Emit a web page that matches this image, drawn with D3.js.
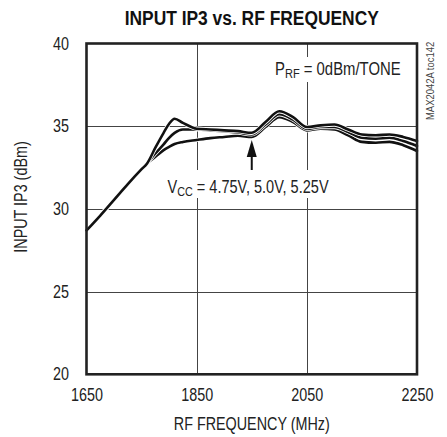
<!DOCTYPE html>
<html>
<head>
<meta charset="utf-8">
<script src="https://cdn.jsdelivr.net/npm/d3@7"></script>
<style>
  html, body { margin: 0; padding: 0; background: #fff; }
  svg { display: block; }
  text { font-family: "Liberation Sans", Arial, sans-serif; fill: #222; }
</style>
</head>
<body>
<svg id="chart" width="447" height="437"></svg>
<script>
// RF frequency sweep (MHz)
const freq = [1650, 1675, 1700, 1725, 1750, 1760, 1775, 1790, 1800, 1810, 1825, 1850, 1875, 1900,
              1925, 1950, 1975, 2000, 2025, 2050, 2075, 2100, 2125, 2150, 2175, 2200, 2225, 2250];

// Input IP3 (dBm) at each supply voltage
const ip3_525 = [28.7, 29.6, 30.55, 31.5, 32.4, 32.75, 33.7, 34.6, 35.15, 35.45, 35.2, 34.85, 34.8, 34.75,
                 34.7, 34.6, 35.25, 35.9, 35.55, 34.95, 35.05, 35.1, 34.8, 34.5, 34.45, 34.5, 34.35, 34.1];
const ip3_500 = [28.7, 29.6, 30.55, 31.5, 32.4, 32.75, 33.35, 33.9, 34.3, 34.6, 34.8, 34.8, 34.75, 34.7,
                 34.62, 34.5, 35.1, 35.72, 35.4, 34.85, 34.95, 34.95, 34.65, 34.3, 34.25, 34.3, 34.1, 33.8];
const ip3_475 = [28.7, 29.6, 30.55, 31.5, 32.4, 32.75, 33.15, 33.55, 33.75, 33.92, 34.05, 34.17, 34.28, 34.35,
                 34.42, 34.35, 34.95, 35.55, 35.25, 34.75, 34.85, 34.8, 34.45, 34.05, 34.0, 34.05, 33.85, 33.5];

const xTicks = [1650, 1850, 2050, 2250];
const yTicks = [20, 25, 30, 35, 40];
const xGrid = [1850, 2050];
const yGrid = [25, 30, 35];

const svg = d3.select("#chart");
const plotL = 86.5, plotR = 417, plotT = 43.5, plotB = 374.3;
const NARROW = 0.82;   // horizontal squeeze giving a narrow sans face

const x = d3.scaleLinear().domain([1650, 2250]).range([plotL, plotR]);
const y = d3.scaleLinear().domain([20, 40]).range([plotB, plotT]);

// Narrow text placed at (tx, ty) via a squeezed group
function narrowText(tx, ty, str, opts = {}) {
  const k = opts.k || NARROW;
  const g = svg.append("g").attr("transform", `translate(${tx},${ty}) ${opts.rotate ? "rotate(-90) " : ""}scale(${k},1)`);
  const t = g.append("text")
    .attr("text-anchor", opts.anchor || "start")
    .attr("font-size", opts.size || 17.5)
    .text(str);
  if (opts.weight) t.attr("font-weight", opts.weight);
  if (opts.fill) t.style("fill", opts.fill);
  return t.node().getComputedTextLength() * k;
}

// Label built from consecutive pieces (main text / subscript)
function pieceLabel(x0, baseline, parts, k) {
  let cx = x0;
  parts.forEach(p => {
    cx += narrowText(cx, baseline + (p.sub ? 3 : 0), p.t, {k, size: p.sub ? 13 : 17.5});
  });
}

// Title
narrowText((plotL + plotR) / 2, 25, "INPUT IP3 vs. RF FREQUENCY",
  {anchor: "middle", size: 20, weight: "bold", k: 0.87, fill: "#111"});

// Grid
const grid = svg.append("g").attr("stroke", "#444").attr("stroke-width", 1);
grid.selectAll("line.v").data(xGrid).join("line")
  .attr("x1", d => Math.round(x(d)) + 0.5).attr("x2", d => Math.round(x(d)) + 0.5)
  .attr("y1", plotT).attr("y2", plotB);
grid.selectAll("line.h").data(yGrid).join("line")
  .attr("x1", plotL).attr("x2", plotR)
  .attr("y1", d => Math.round(y(d)) + 0.5).attr("y2", d => Math.round(y(d)) + 0.5);

// Axes (labels only; the frame is drawn separately)
const yAxis = svg.append("g").attr("transform", `translate(${plotL},0)`)
  .call(d3.axisLeft(y).tickValues(yTicks).tickFormat(d3.format("d")).tickSize(0).tickPadding(17.5));
yAxis.select(".domain").remove();
yAxis.attr("font-family", null).attr("font-size", null);
yAxis.selectAll("text").attr("font-size", 17.5)
  .attr("x", -17.5 / NARROW).attr("transform", `scale(${NARROW},1)`);

const xAxis = svg.append("g").attr("transform", `translate(0,${plotB})`)
  .call(d3.axisBottom(x).tickValues(xTicks).tickFormat(d3.format("d")).tickSize(0).tickPadding(14));
xAxis.select(".domain").remove();
xAxis.attr("font-family", null).attr("font-size", null);
xAxis.selectAll("text").attr("font-size", 17.5).attr("transform", `scale(${NARROW},1)`);

// Axis titles
narrowText((plotL + plotR) / 2, 430, "RF FREQUENCY (MHz)", {anchor: "middle"});
narrowText(27, 197, "INPUT IP3 (dBm)", {anchor: "middle", rotate: true});

// Annotation backgrounds keep grid lines clear of the labels
svg.append("rect").attr("x", 270).attr("y", 57).attr("width", 136).attr("height", 25).attr("fill", "#fff");
svg.append("rect").attr("x", 163).attr("y", 170).attr("width", 172).attr("height", 28).attr("fill", "#fff");

// Curves
const line = d3.line().x((d, i) => x(freq[i])).y(d => y(d)).curve(d3.curveMonotoneX);
const series = [ip3_475, ip3_500, ip3_525];
const curves = svg.append("g").attr("fill", "none").attr("stroke-linejoin", "round").attr("stroke-linecap", "round");
series.forEach(s => {
  curves.append("path").attr("d", line(s)).attr("stroke", "#fff").attr("stroke-width", 4.2);
  curves.append("path").attr("d", line(s)).attr("stroke", "#111").attr("stroke-width", 2.6);
});

// Frame
svg.append("rect")
  .attr("x", plotL).attr("y", plotT).attr("width", plotR - plotL).attr("height", plotB - plotT)
  .attr("fill", "none").attr("stroke", "#222").attr("stroke-width", 2.6);

// Annotation: PRF
pieceLabel(275, 74.5, [{t: "P"}, {t: "RF", sub: true}, {t: "\u00a0= 0dBm/TONE"}], 0.85);

// Annotation: VCC with arrow
pieceLabel(167.5, 192.7, [{t: "V"}, {t: "CC", sub: true}, {t: "\u00a0= 4.75V, 5.0V, 5.25V"}], 0.83);

const ax = x(1950);
svg.append("line").attr("x1", ax).attr("x2", ax).attr("y1", 170).attr("y2", 154)
  .attr("stroke", "#111").attr("stroke-width", 2);
svg.append("path")
  .attr("d", `M${ax},140 L${ax - 5},157 L${ax + 5},157 Z`)
  .attr("fill", "#111");

// Side code
narrowText(434, 120, "MAX2042A toc142", {size: 10.5, rotate: true, k: 0.9, fill: "#444"});
</script>
</body>
</html>
